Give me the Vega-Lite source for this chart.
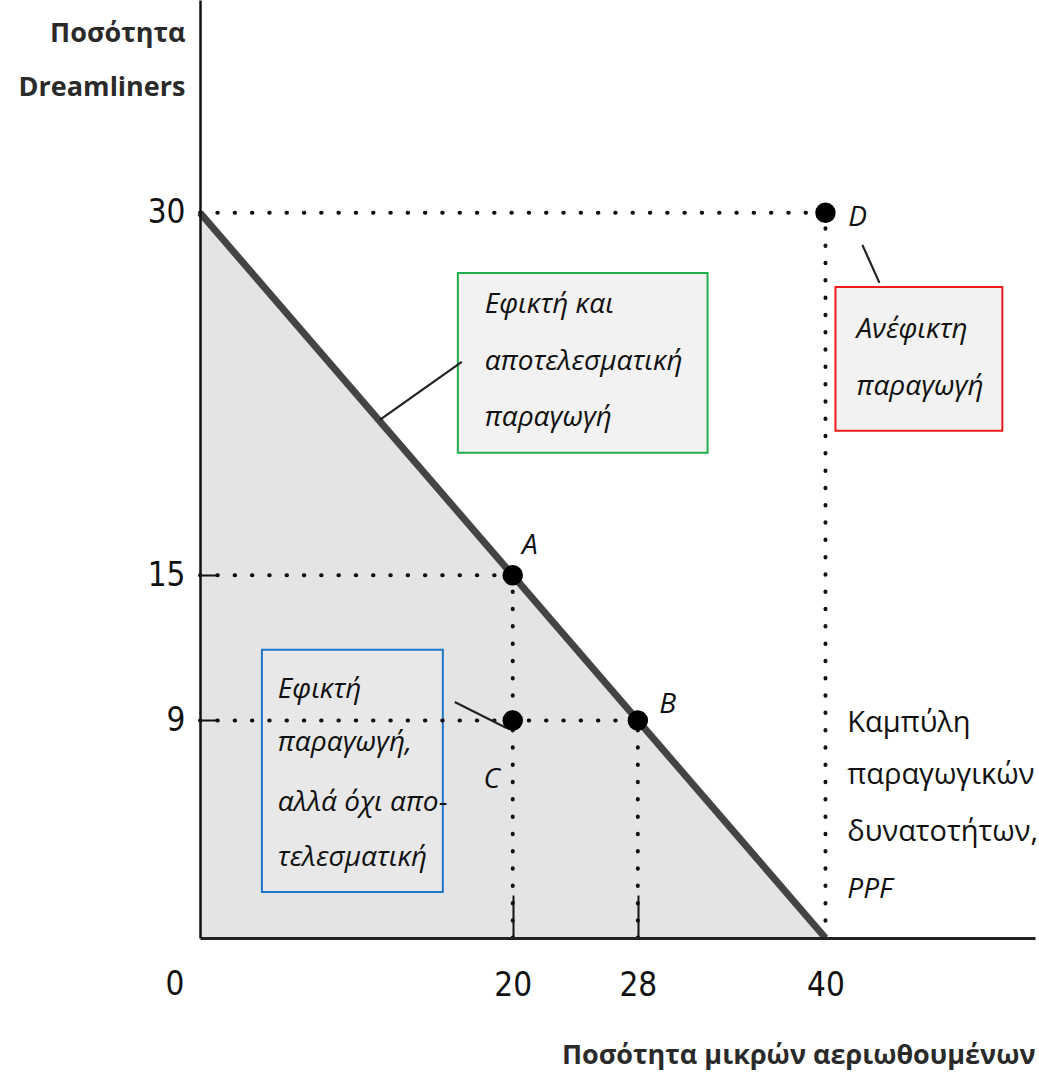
{
  "$schema": "https://vega.github.io/schema/vega-lite/v6.json",
  "width": 835,
  "height": 938,
  "autosize": {"type": "none"},
  "padding": {"left": 200, "top": 0, "right": 4, "bottom": 135},
  "background": "white",
  "config": {"view": {"stroke": null}},
  "datasets": {
    "ppf": [{"x": 0, "y": 30}, {"x": 40, "y": 0}],
    "boxes": [
      {"box": "green", "x": 16.49, "x2": 32.46, "y": 27.51, "y2": 20.07},
      {"box": "red", "x": 40.64, "x2": 51.31, "y": 26.93, "y2": 20.98},
      {"box": "blue", "x": 3.96, "x2": 15.53, "y": 11.92, "y2": 1.9}
    ],
    "dotted": [
      {"x": 0, "y": 30, "x2": 40, "y2": 30},
      {"x": 0, "y": 15, "x2": 20, "y2": 15},
      {"x": 0, "y": 9, "x2": 28, "y2": 9},
      {"x": 20, "y": 0, "x2": 20, "y2": 15},
      {"x": 28, "y": 0, "x2": 28, "y2": 9},
      {"x": 40, "y": 0, "x2": 40, "y2": 30}
    ],
    "leaders": [
      {"x": 16.74, "y": 23.83, "x2": 11.5, "y2": 21.43},
      {"x": 42.36, "y": 28.67, "x2": 43.45, "y2": 27.1},
      {"x": 16.29, "y": 9.76, "x2": 19.6, "y2": 8.69}
    ],
    "points": [
      {"name": "A", "x": 20, "y": 15},
      {"name": "B", "x": 28, "y": 9},
      {"name": "C", "x": 20, "y": 9},
      {"name": "D", "x": 40, "y": 30}
    ],
    "pointLabels": [
      {"label": "A", "x": 21.1, "y": 16.2},
      {"label": "B", "x": 29.9, "y": 9.64},
      {"label": "C", "x": 18.66, "y": 6.54},
      {"label": "D", "x": 42.05, "y": 29.79}
    ],
    "italicText": [
      {"label": "Εφικτή και", "x": 18.21, "y": 26.19},
      {"label": "αποτελεσματική", "x": 18.21, "y": 23.83},
      {"label": "παραγωγή", "x": 18.21, "y": 21.51},
      {"label": "Ανέφικτη", "x": 41.98, "y": 25.15},
      {"label": "παραγωγή", "x": 41.98, "y": 22.8},
      {"label": "Εφικτή", "x": 4.98, "y": 10.26},
      {"label": "παραγωγή,", "x": 4.98, "y": 8.07},
      {"label": "αλλά όχι απο-", "x": 4.98, "y": 5.59},
      {"label": "τελεσματική", "x": 4.98, "y": 3.31},
      {"label": "PPF", "x": 41.4, "y": 1.99}
    ],
    "uprightText": [
      {"label": "Καμπύλη", "x": 41.4, "y": 8.9},
      {"label": "παραγωγικών", "x": 41.4, "y": 6.74},
      {"label": "δυνατοτήτων,", "x": 41.4, "y": 4.39}
    ],
    "zero": [{"label": "0", "x": -1.6, "y": -1.94}]
  },
  "encoding": {
    "x": {
      "field": "x",
      "type": "quantitative",
      "scale": {"domain": [0, 53.4], "nice": false, "zero": false},
      "axis": {
        "values": [20, 28, 40],
        "grid": false,
        "zindex": 1,
        "title": "Ποσότητα μικρών αεριωθουμένων",
        "titleFont": "Open Sans",
        "titleFontWeight": "bold",
        "titleFontSize": 27,
        "titleColor": "#2a2a2a",
        "titleX": 835,
        "titleY": 117,
        "titleAlign": "right",
        "titleBaseline": "middle",
        "titleAnchor": null,
        "domainColor": "#222222",
        "domainWidth": 3,
        "tickSize": -43,
        "tickWidth": 2,
        "tickColor": "#111111",
        "tickOpacity": {"condition": {"test": "datum.value == 40", "value": 0}, "value": 1},
        "labelFont": "DejaVu Sans Condensed, Roboto, sans-serif",
        "labelFontSize": 33,
        "labelColor": "#111111",
        "labelBaseline": "middle",
        "labelPadding": 90
      }
    },
    "y": {
      "field": "y",
      "type": "quantitative",
      "scale": {"domain": [0, 38.8], "nice": false, "zero": false},
      "axis": {
        "values": [9, 15, 30],
        "grid": false,
        "zindex": 1,
        "title": ["Ποσότητα", "Dreamliners"],
        "titleFont": "Open Sans",
        "titleFontWeight": "bold",
        "titleFontSize": 27,
        "titleColor": "#2a2a2a",
        "titleAngle": 0,
        "titleX": -15,
        "titleY": 33,
        "titleAlign": "right",
        "titleBaseline": "middle",
        "titleLineHeight": 54,
        "titleAnchor": null,
        "domainColor": "#111111",
        "domainWidth": 2.5,
        "tickSize": -18,
        "tickWidth": 2,
        "tickColor": "#111111",
        "tickOpacity": {"condition": {"test": "datum.value == 30", "value": 0}, "value": 1},
        "labelFont": "DejaVu Sans Condensed, Roboto, sans-serif",
        "labelFontSize": 33,
        "labelColor": "#111111",
        "labelBaseline": "middle",
        "labelPadding": 33
      }
    }
  },
  "layer": [
    {
      "data": {"name": "ppf"},
      "mark": {"type": "area", "color": "#e4e4e4", "opacity": 1}
    },
    {
      "data": {"name": "boxes"},
      "mark": {"type": "rect", "strokeWidth": 2},
      "encoding": {
        "x2": {"field": "x2"},
        "y2": {"field": "y2"},
        "stroke": {"field": "box", "type": "nominal", "scale": {"domain": ["green", "red", "blue"], "range": ["#1fae4b", "#ee1c1c", "#1f77c9"]}, "legend": null},
        "fill": {"field": "box", "type": "nominal", "scale": {"domain": ["green", "red", "blue"], "range": ["#f2f2f2", "#f2f2f2", "#e8e8e8"]}, "legend": null}
      }
    },
    {
      "data": {"name": "dotted"},
      "mark": {"type": "rule", "color": "#111111", "strokeWidth": 4, "strokeCap": "round", "strokeDash": [0.5, 16.8]},
      "encoding": {"x2": {"field": "x2"}, "y2": {"field": "y2"}}
    },
    {
      "data": {"name": "ppf"},
      "mark": {"type": "line", "color": "#444444", "strokeWidth": 7}
    },
    {
      "data": {"name": "leaders"},
      "mark": {"type": "rule", "color": "#222222", "strokeWidth": 2.2},
      "encoding": {"x2": {"field": "x2"}, "y2": {"field": "y2"}}
    },
    {
      "data": {"name": "points"},
      "mark": {"type": "point", "shape": "circle", "filled": true, "size": 420, "color": "#000000", "opacity": 1}
    },
    {
      "data": {"name": "pointLabels"},
      "mark": {"type": "text", "font": "Open Sans", "fontStyle": "italic", "fontSize": 28, "color": "#111111", "align": "center", "baseline": "middle"},
      "encoding": {"text": {"field": "label"}}
    },
    {
      "data": {"name": "italicText"},
      "mark": {"type": "text", "font": "Open Sans", "fontStyle": "italic", "fontSize": 28, "color": "#111111", "align": "left", "baseline": "middle"},
      "encoding": {"text": {"field": "label"}}
    },
    {
      "data": {"name": "uprightText"},
      "mark": {"type": "text", "font": "Open Sans", "fontSize": 29, "color": "#111111", "align": "left", "baseline": "middle"},
      "encoding": {"text": {"field": "label"}}
    },
    {
      "data": {"name": "zero"},
      "mark": {"type": "text", "font": "DejaVu Sans Condensed, Roboto, sans-serif", "fontSize": 33, "color": "#111111", "align": "center", "baseline": "middle"},
      "encoding": {"text": {"field": "label"}}
    }
  ]
}
